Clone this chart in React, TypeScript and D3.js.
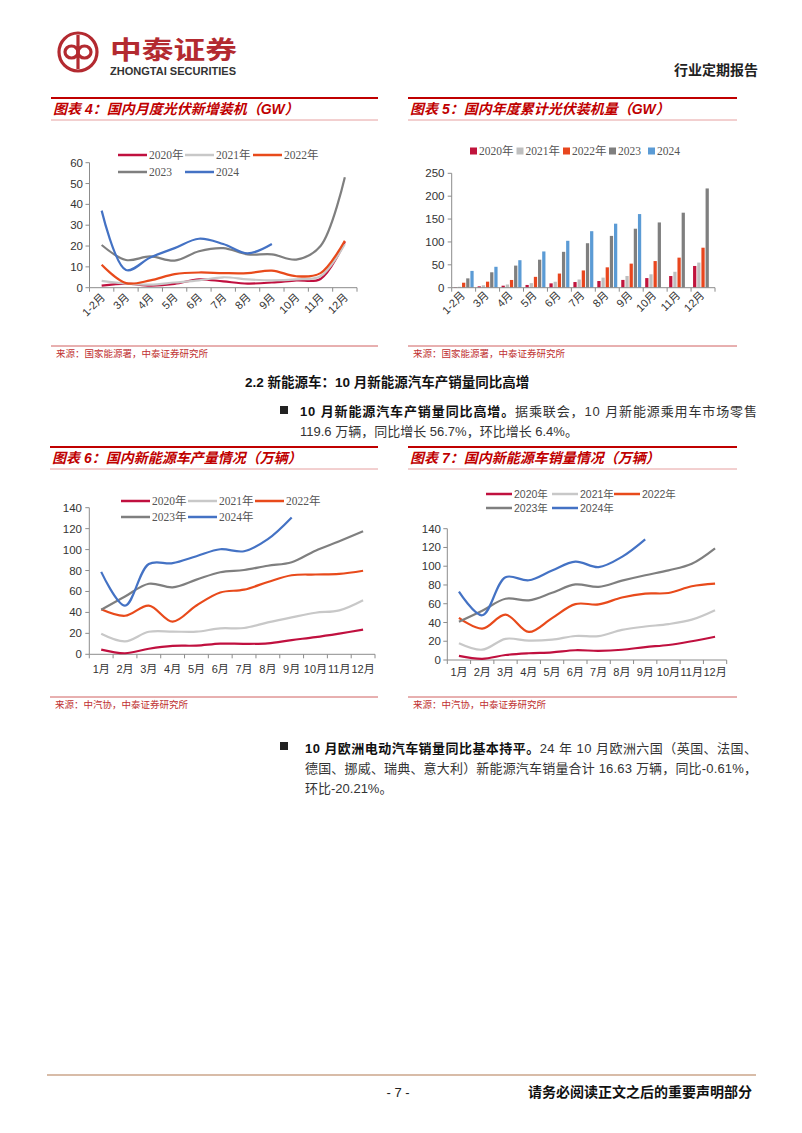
import React from 'react';
import * as d3 from 'd3';

// 图表4 / 图表5：光伏
const pvMonths = ['1-2月', '3月', '4月', '5月', '6月', '7月', '8月', '9月', '10月', '11月', '12月'];
const pvMonthly2020 = [1, 2, 1, 1.8, 4, 3, 2, 2.5, 3.5, 4.2, 22];
const pvMonthly2021 = [3.3, 2, 1.5, 2.5, 3.5, 5, 4, 3.5, 4, 5.5, 21];
const pvMonthly2022 = [11, 2.2, 3.5, 6.5, 7.3, 7, 7, 8.2, 5.5, 7, 22.5];
const pvMonthly2023 = [20.5, 13.3, 15, 13, 17.5, 19, 16, 16, 13.5, 20, 53];
const pvMonthly2024 = [37, 8.5, 14.5, 19, 23.5, 21, 16.5, 21];

const pvCum2020 = [1, 3, 4.4, 6, 9.5, 12.4, 14.6, 17, 21, 25.5, 47.5];
const pvCum2021 = [2, 5.3, 7, 10, 13, 17.9, 22, 25.6, 29.3, 34.8, 54.9];
const pvCum2022 = [10.9, 13.2, 16.9, 23.7, 30.9, 37.7, 44.5, 52.6, 58.2, 65.7, 87.4];
const pvCum2023 = [20.4, 33.7, 48.3, 61.2, 78.4, 97.2, 113.2, 128.9, 142.6, 163.9, 216.9];
const pvCum2024 = [36.7, 45.7, 60.1, 79.2, 102.5, 123.5, 139.9, 160.9];

// 图表6 / 图表7：新能源车（万辆）
const evMonths = ['1月', '2月', '3月', '4月', '5月', '6月', '7月', '8月', '9月', '10月', '11月', '12月'];
const prod2020 = [4.5, 1, 5.3, 8, 8.3, 10.2, 10, 10.5, 13.6, 16.4, 19.8, 23.5];
const prod2021 = [19.7, 12.4, 21.5, 21.7, 21.6, 24.8, 25.1, 30.5, 35.3, 39.7, 42, 51.7];
const prod2022 = [43, 36.8, 46.5, 31.2, 46.6, 59, 61.7, 69.1, 75.5, 76.2, 76.8, 79.8];
const prod2023 = [42.5, 55.2, 67.4, 64, 71.3, 78.4, 80.5, 84.6, 87.9, 99, 108, 117.5];
const prod2024 = [78.7, 46.5, 86.2, 87, 93.7, 100.3, 98.4, 109.9, 130.6];

const sales2020 = [4.4, 1.3, 5.3, 7.2, 8.2, 10.4, 9.8, 10.9, 13.8, 16, 20, 24.8];
const sales2021 = [17.9, 11, 22.6, 20.6, 21.7, 25.6, 25.5, 32.1, 35.7, 38.3, 43, 53.1];
const sales2022 = [45, 33.4, 48.4, 29.9, 44.7, 59.6, 59.3, 66.6, 70.8, 71.4, 78.6, 81.4];
const sales2023 = [40.8, 52.5, 65.3, 63.6, 71.7, 80.6, 78, 84.6, 90.4, 95.6, 102.6, 119.1];
const sales2024 = [72.9, 47.7, 88.3, 85, 95.5, 104.9, 99.1, 110, 128.7];

const yearNames = ['2020年', '2021年', '2022年', '2023年', '2024年'];
const pvLineNames = ['2020年', '2021年', '2022年', '2023', '2024'];
const pvBarNames = ['2020年', '2021年', '2022年', '2023', '2024'];

const lineColors = ['#C0103F', '#C8C8C8', '#E84A1B', '#7F7F7F', '#4472C4'];
const barColors = ['#C0143C', '#BFBFBF', '#E8461E', '#7F7F7F', '#5B9BD5'];

const RED = '#C00000';
const AXIS = '#8C8C8C';
const SANS = '"Liberation Sans", Arial, "Noto Sans CJK SC", sans-serif';
const SERIF = '"Liberation Serif", "Times New Roman", "Noto Sans CJK SC", serif';
const CJK = '"Liberation Sans", "Noto Sans CJK SC", sans-serif';

type Series = { name: string; values: number[]; color: string };

function LineChart(props: {
  cats: string[];
  series: Series[];
  x0: number; x1: number; yZero: number; yTop: number;
  max: number; step: number;
  rotated: boolean; labelY: number; yLabelX: number;
  legendX: number[]; legendY: number[]; legendFont: string;
  legendLen: number; legendSize: number;
}) {
  const { cats, series, x0, x1, yZero, yTop, max, step, rotated, labelY, yLabelX,
    legendX, legendY, legendFont, legendLen, legendSize } = props;
  const x = d3.scaleBand().domain(cats).range([x0, x1]);
  const y = d3.scaleLinear().domain([0, max]).range([yZero, yTop]);
  const cx = (i: number) => (x(cats[i]) as number) + x.bandwidth() / 2;
  const line = d3.line<number>()
    .x((_, i) => cx(i))
    .y(d => y(d))
    .curve(d3.curveCatmullRom.alpha(0.5));
  const ticks = d3.range(0, max + step / 2, step);
  const bounds = [x0, ...cats.map(c => (x(c) as number) + x.bandwidth())];
  return (
    <g>
      <line x1={x0} x2={x0} y1={yTop} y2={yZero} stroke={AXIS} />
      {ticks.map(t => (
        <g key={t}>
          <line x1={x0 - 4} x2={x0} y1={y(t)} y2={y(t)} stroke={AXIS} />
          <text x={yLabelX} y={y(t)} dy="0.35em" textAnchor="end" fontSize={11.5} fill="#333" fontFamily={SANS}>{t}</text>
        </g>
      ))}
      <line x1={x0} x2={x1} y1={yZero} y2={yZero} stroke={AXIS} />
      {bounds.map((b, i) => (
        <line key={i} x1={b} x2={b} y1={yZero} y2={yZero + 4} stroke={AXIS} />
      ))}
      {cats.map((c, i) => rotated ? (
        <text key={c} transform={`translate(${cx(i) + 4},${labelY}) rotate(-45)`} textAnchor="end" fontSize={11} fill="#333" fontFamily={CJK}>{c}</text>
      ) : (
        <text key={c} x={cx(i)} y={labelY} textAnchor="middle" fontSize={11} fill="#333" fontFamily={CJK}>{c}</text>
      ))}
      {series.map(s => (
        <path key={s.name} d={line(s.values) || ''} fill="none" stroke={s.color} strokeWidth={2.2} />
      ))}
      {series.map((s, i) => {
        const lx = legendX[i % 3];
        const ly = legendY[Math.floor(i / 3)];
        return (
          <g key={s.name}>
            <line x1={lx} x2={lx + legendLen} y1={ly} y2={ly} stroke={s.color} strokeWidth={2.5} />
            <text x={lx + legendLen + 2} y={ly} dy="0.35em" fontSize={legendSize} fill="#555" fontFamily={legendFont}>{s.name}</text>
          </g>
        );
      })}
    </g>
  );
}

function BarChart(props: { cats: string[]; series: Series[] }) {
  const { cats, series } = props;
  const x0 = 451.7, x1 = 715, yZero = 287.7, yTop = 173.3;
  const x = d3.scaleBand().domain(cats).range([x0, x1]);
  const inner = d3.scaleBand().domain(series.map(s => s.name)).range([2, x.bandwidth() - 2]).paddingInner(0.22);
  const y = d3.scaleLinear().domain([0, 250]).range([yZero, yTop]);
  const ticks = d3.range(0, 251, 50);
  const bounds = [x0, ...cats.map(c => (x(c) as number) + x.bandwidth())];
  const legendX = [470, 516.5, 563, 609, 648];
  return (
    <g>
      <line x1={x0} x2={x0} y1={yTop} y2={yZero} stroke={AXIS} />
      {ticks.map(t => (
        <g key={t}>
          <line x1={x0 - 4} x2={x0} y1={y(t)} y2={y(t)} stroke={AXIS} />
          <text x={444.5} y={y(t)} dy="0.35em" textAnchor="end" fontSize={11.5} fill="#333" fontFamily={SANS}>{t}</text>
        </g>
      ))}
      {series.map(s => s.values.map((v, i) => (
        <rect key={s.name + i}
          x={(x(cats[i]) as number) + (inner(s.name) as number)}
          y={y(v)} width={inner.bandwidth()} height={yZero - y(v)} fill={s.color} />
      )))}
      <line x1={x0} x2={x1} y1={yZero} y2={yZero} stroke={AXIS} />
      {bounds.map((b, i) => (
        <line key={i} x1={b} x2={b} y1={yZero} y2={yZero + 4} stroke={AXIS} />
      ))}
      {cats.map(c => (
        <text key={c} transform={`translate(${(x(c) as number) + x.bandwidth() / 2 + 2},${296}) rotate(-45)`} textAnchor="end" fontSize={11} fill="#333" fontFamily={CJK}>{c}</text>
      ))}
      {series.map((s, i) => (
        <g key={s.name}>
          <rect x={legendX[i]} y={147.5} width={7} height={7} fill={s.color} />
          <text x={legendX[i] + 9} y={151} dy="0.35em" fontSize={11.5} fill="#555" fontFamily={SERIF}>{s.name}</text>
        </g>
      ))}
    </g>
  );
}

function ChartFrame(props: { x0: number; x1: number; top: number; bottom: number; title: string; source: string }) {
  const { x0, x1, top, bottom, title, source } = props;
  return (
    <g>
      <line x1={x0} x2={x1} y1={top} y2={top} stroke={RED} strokeWidth={2} />
      <text x={x0 + 2} y={top + 16} fontSize={14} fontWeight="bold" fontStyle="italic" fill={RED} fontFamily={CJK}>{title}</text>
      <line x1={x0} x2={x1} y1={top + 22} y2={top + 22} stroke="#E6A0A0" strokeWidth={1} />
      <line x1={x0} x2={x1} y1={bottom} y2={bottom} stroke="#D06060" strokeWidth={1} />
      <text x={x0 + 5} y={bottom + 11} fontSize={9.5} fill="#C03030" fontFamily={CJK}>{source}</text>
    </g>
  );
}

export default function App() {
  const pvLine: Series[] = [pvMonthly2020, pvMonthly2021, pvMonthly2022, pvMonthly2023, pvMonthly2024]
    .map((v, i) => ({ name: pvLineNames[i], values: v, color: lineColors[i] }));
  const pvBar: Series[] = [pvCum2020, pvCum2021, pvCum2022, pvCum2023, pvCum2024]
    .map((v, i) => ({ name: pvBarNames[i], values: v, color: barColors[i] }));
  const prod: Series[] = [prod2020, prod2021, prod2022, prod2023, prod2024]
    .map((v, i) => ({ name: yearNames[i], values: v, color: lineColors[i] }));
  const sales: Series[] = [sales2020, sales2021, sales2022, sales2023, sales2024]
    .map((v, i) => ({ name: yearNames[i], values: v, color: lineColors[i] }));

  return (
    <div style={{ position: 'absolute', left: 0, top: 0 }}>
      <svg width={802} height={1133} style={{ display: 'block', background: '#fff' }}>
        {/* 页眉 */}
        <g stroke="#B32A30" fill="none" strokeWidth={3.2}>
          <circle cx={78} cy={52} r={19} />
          <ellipse cx={71.5} cy={52} rx={6.5} ry={6} />
          <ellipse cx={84.5} cy={52} rx={6.5} ry={6} />
          <line x1={78} x2={78} y1={35} y2={69} />
        </g>
        <text x={110} y={59} fontSize={25} fontWeight="bold" fill="#B32A30" fontFamily={CJK} textLength={127} lengthAdjust="spacingAndGlyphs">中泰证券</text>
        <text x={110} y={75} fontSize={10} fontWeight="bold" fill="#333" fontFamily={SANS} textLength={126} lengthAdjust="spacingAndGlyphs">ZHONGTAI SECURITIES</text>
        <text x={758} y={75} fontSize={14} fontWeight="bold" fill="#222" textAnchor="end" fontFamily={CJK}>行业定期报告</text>

        <ChartFrame x0={51} x1={378} top={98} bottom={346} title="图表 4：国内月度光伏新增装机（GW）" source="来源：国家能源署，中泰证券研究所" />
        <ChartFrame x0={408} x1={737} top={98} bottom={346} title="图表 5：国内年度累计光伏装机量（GW）" source="来源：国家能源署，中泰证券研究所" />

        <LineChart cats={pvMonths} series={pvLine} x0={89.5} x1={357} yZero={287.7} yTop={162.7} max={60} step={10}
          rotated labelY={298} yLabelX={83} legendX={[118, 185, 253]} legendY={[155, 172]} legendFont={SERIF}
          legendLen={29} legendSize={11.5} />
        <BarChart cats={pvMonths} series={pvBar} />

        {/* 正文 */}
        <text x={245} y={387} fontSize={13.5} fontWeight="bold" fill="#111" fontFamily={CJK}>2.2 新能源车：10 月新能源汽车产销量同比高增</text>
        <rect x={280} y={406} width={8} height={8} fill="#222" />
        <text x={300} y={416} fontSize={13} fill="#333" fontFamily={CJK} textLength={457} lengthAdjust="spacing">
          <tspan fontWeight="bold" fill="#111">10 月新能源汽车产销量同比高增。</tspan>据乘联会，10 月新能源乘用车市场零售
        </text>
        <text x={300} y={436} fontSize={13} fill="#333" fontFamily={CJK}>119.6 万辆，同比增长 56.7%，环比增长 6.4%。</text>

        <ChartFrame x0={50} x1={378} top={447} bottom={697} title="图表 6：国内新能源车产量情况（万辆）" source="来源：中汽协，中泰证券研究所" />
        <ChartFrame x0={408} x1={737} top={447} bottom={697} title="图表 7：国内新能源车销量情况（万辆）" source="来源：中汽协，中泰证券研究所" />

        <LineChart cats={evMonths} series={prod} x0={89.3} x1={375} yZero={654.3} yTop={507.7} max={140} step={20}
          rotated={false} labelY={673} yLabelX={82} legendX={[121, 188, 255]} legendY={[501, 517]} legendFont={SERIF}
          legendLen={29} legendSize={11.5} />
        <LineChart cats={evMonths} series={sales} x0={447.3} x1={726.7} yZero={660} yTop={528.7} max={140} step={20}
          rotated={false} labelY={676} yLabelX={441} legendX={[486, 552, 614]} legendY={[494, 508]} legendFont={SANS}
          legendLen={26} legendSize={10.5} />

        <rect x={280} y={742} width={8} height={8} fill="#222" />
        <text x={305} y={753} fontSize={13} fill="#333" fontFamily={CJK} textLength={452} lengthAdjust="spacing">
          <tspan fontWeight="bold" fill="#111">10 月欧洲电动汽车销量同比基本持平。</tspan>24 年 10 月欧洲六国（英国、法国、
        </text>
        <text x={305} y={773} fontSize={13} fill="#333" fontFamily={CJK} textLength={452} lengthAdjust="spacing">德国、挪威、瑞典、意大利）新能源汽车销量合计 16.63 万辆，同比-0.61%，</text>
        <text x={305} y={793} fontSize={13} fill="#333" fontFamily={CJK}>环比-20.21%。</text>

        {/* 页脚 */}
        <line x1={47} x2={756} y1={1075} y2={1075} stroke="#D8BCA8" strokeWidth={2} />
        <text x={398} y={1097} fontSize={13} fill="#222" textAnchor="middle" fontFamily={SANS}>- 7 -</text>
        <text x={752} y={1097} fontSize={14} fontWeight="bold" fill="#111" textAnchor="end" fontFamily={CJK}>请务必阅读正文之后的重要声明部分</text>
      </svg>
    </div>
  );
}
